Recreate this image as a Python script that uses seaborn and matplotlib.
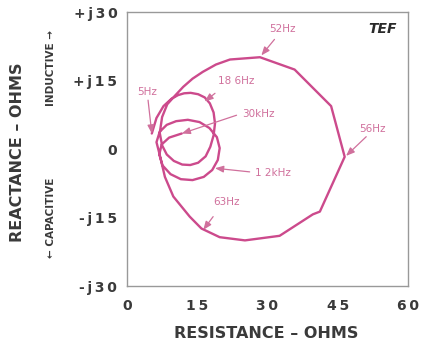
import matplotlib
matplotlib.use("Agg")
import matplotlib.pyplot as plt
import seaborn as sns
import pandas as pd

# Impedance trace (resistance, reactance), in sweep order
resistance = [5.3, 6.3, 7.8, 9.5, 10.9, 12.2, 13.6, 15.2, 16.6, 17.7, 18.5, 18.8, 18.5,
              17.8, 16.8, 15.2, 13.5, 11.8, 10.0, 8.5, 7.5, 7.0, 7.5, 8.6, 10.0, 12.0,
              14.0, 16.2, 19.0, 22.0, 28.4, 35.8, 43.6, 46.5, 41.2, 39.7, 32.6, 25.2,
              19.8, 15.9, 13.4, 9.9, 8.1, 7.0, 6.3, 7.0, 8.5, 10.5, 13.0, 15.5, 17.6,
              19.2, 19.8, 19.4, 18.2, 16.4, 14.0, 11.5, 9.3, 7.6, 6.9, 7.4, 9.0, 11.7]
reactance = [3.4, 6.8, 9.4, 11.0, 11.8, 12.2, 12.3, 12.0, 11.3, 10.0, 8.0, 5.6, 3.0,
             0.5, -1.6, -3.0, -3.5, -3.4, -2.6, -1.2, 0.8, 3.5, 7.0, 9.8, 11.4, 13.6,
             15.4, 16.9, 18.5, 19.6, 20.1, 17.4, 9.4, -1.7, -13.7, -14.3, -19.0, -20.0,
             -19.3, -17.4, -14.8, -10.4, -6.1, -1.3, 1.5, 3.8, 5.3, 6.1, 6.4, 5.9, 4.6,
             2.6, 0.2, -2.4, -4.6, -6.1, -6.8, -6.6, -5.5, -3.6, -1.2, 1.0, 2.5, 3.4]

# Frequency annotations: label, label position, arrow tail, arrow tip
freq_labels = ["52Hz", "5Hz", "18 6Hz", "30kHz", "56Hz", "1 2kHz", "63Hz"]
label_r = [33.3, 4.2, 23.4, 28.0, 52.4, 31.2, 21.3]
label_x = [26.2, 12.5, 14.9, 7.6, 4.3, -5.2, -11.5]
tail_r = [31.5, 4.5, 18.8, 23.4, 51.1, 26.2, 18.4]
tail_x = [24.0, 10.7, 12.2, 7.4, 2.7, -5.0, -14.8]
tip_r = [28.7, 5.3, 16.6, 11.7, 46.8, 18.8, 16.3]
tip_x = [20.5, 3.4, 10.4, 3.4, -1.5, -4.2, -17.7]

x_ticks = [0, 15, 30, 45, 60]
x_tick_labels = ["0", "1\u20095", "3\u20090", "4\u20095", "6\u20090"]
y_ticks = [30, 15, 0, -15, -30]
y_tick_labels = ["+\u2009j\u20093\u20090", "+\u2009j\u20091\u20095", "0",
                 "-\u2009j\u20091\u20095", "-\u2009j\u20093\u20090"]

sns.set_style("white")
plt.rcParams["font.family"] = ["DejaVu Sans"]

line_color = "#cc4a8c"
label_color = "#d0709c"
text_color = "#3a3a3a"

fig = plt.figure(figsize=(4.24, 3.43), dpi=100)
ax = fig.add_axes([0.2995, 0.166, 0.6625, 0.799])

df = pd.DataFrame({"R": resistance, "X": reactance})
sns.lineplot(data=df, x="R", y="X", sort=False, estimator=None, color=line_color,
             linewidth=1.7, ax=ax)

for lab, lr, lx, tr, tx, pr, px in zip(freq_labels, label_r, label_x, tail_r, tail_x, tip_r, tip_x):
    ax.text(lr, lx, lab, color=label_color, fontsize=7.5, ha="center", va="center")
    ax.annotate("", xy=(pr, px), xytext=(tr, tx),
                arrowprops=dict(arrowstyle="-|>,head_length=0.5,head_width=0.2",
                                color=label_color, lw=0.9, shrinkA=0, shrinkB=0))

ax.set_xlim(0, 60)
ax.set_ylim(-30, 30)
ax.set_xticks(x_ticks)
ax.set_xticklabels(x_tick_labels, fontsize=10, fontweight="bold", color=text_color)
ax.set_yticks(y_ticks)
ax.set_yticklabels(y_tick_labels, fontsize=10, fontweight="bold", color=text_color)
ax.tick_params(axis="both", length=0)
ax.tick_params(axis="x", pad=9)
ax.tick_params(axis="y", pad=7)
ax.set_xlabel("")
ax.set_ylabel("")
for s in ax.spines.values():
    s.set_color("#999999")
    s.set_linewidth(1.0)

ax.text(0.96, 0.965, "TEF", transform=ax.transAxes, ha="right", va="top",
        fontsize=10, fontweight="bold", fontstyle="italic", color="#2a2a2a")

fig.text(266 / 424, 1 - 333 / 343, "RESISTANCE \u2013 OHMS", ha="center", va="center",
         fontsize=11.5, fontweight="bold", color=text_color)
fig.text(18 / 424, 1 - 152 / 343, "REACTANCE \u2013 OHMS", ha="center", va="center",
         rotation=90, fontsize=11.5, fontweight="bold", color=text_color)
fig.text(51 / 424, 1 - 68 / 343, "INDUCTIVE \u2192", ha="center", va="center",
         rotation=90, fontsize=7.5, fontweight="bold", color=text_color)
fig.text(51 / 424, 1 - 218 / 343, "\u2190 CAPACITIVE", ha="center", va="center",
         rotation=90, fontsize=7.5, fontweight="bold", color=text_color)

fig.savefig("out.png", dpi=100)
